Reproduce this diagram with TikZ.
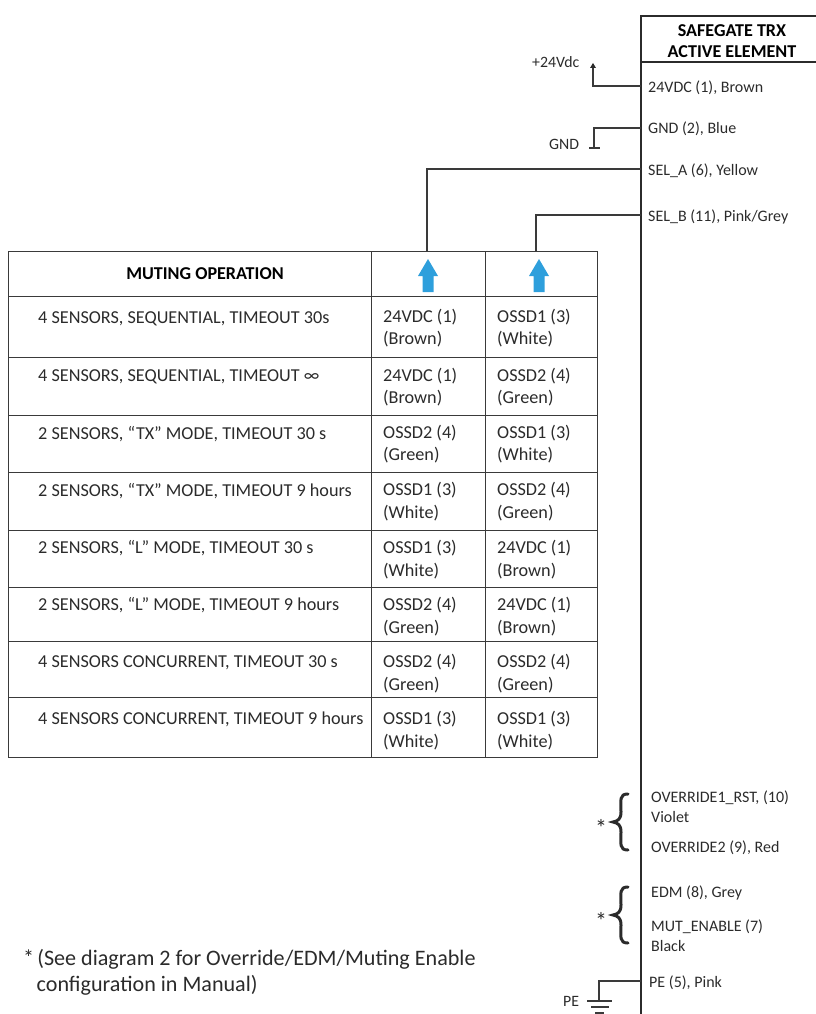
\documentclass[tikz,border=0pt]{standalone}
\usepackage{fontspec}
\setmainfont{Carlito}
\definecolor{ink}{HTML}{2B2B2B}
\definecolor{linec}{HTML}{3A3A3A}
\definecolor{arrowblue}{HTML}{2E9FDC}
\tikzset{
  txt/.style={inner sep=0pt,anchor=west,yshift=-1.5pt,text=ink,font=\fontsize{18.2}{22.2}\selectfont,align=left},
  pin/.style={txt,font=\fontsize{16}{20}\selectfont},
  sym/.style={txt,font=\fontsize{15.8}{18}\selectfont},
  star/.style={txt,font=\fontsize{24}{24}\selectfont},
  hdr/.style={inner sep=0pt,text=black,font=\fontsize{18.1}{21}\selectfont\bfseries,align=center},
  wire/.style={draw=linec,line width=1.1pt},
  grid/.style={draw=linec,line width=1pt},
  bx/.style={draw=ink,line width=2pt},
  brc/.style={draw=ink,line width=3pt,line cap=round},
  up/.style={fill=arrowblue,draw=none}
}
\newcommand{\braceat}[1]{% centre y
  \draw[brc] (628,#1-28) .. controls (619,#1-28) and (621,#1-22) .. (621,#1-10)
     .. controls (621,#1-3) and (618,#1-1) .. (613,#1)
     .. controls (618,#1+1) and (621,#1+3) .. (621,#1+10)
     .. controls (621,#1+22) and (619,#1+28) .. (628,#1+28);}
\newcommand{\uparr}[1]{%
  \fill[up] (#1,259) -- (#1+10,276) -- (#1+5.5,276) -- (#1+5.5,292) -- (#1-5.5,292) -- (#1-5.5,276) -- (#1-10,276) -- cycle;}
\begin{document}
\begin{tikzpicture}[x=1pt,y=-1pt]
\useasboundingbox (0,0) rectangle (816,1014);
\clip (0,0) rectangle (816,1014);
% active element box
\draw[bx] (641,1020) -- (641,16) -- (820,16);
\draw[bx] (641,62) -- (820,62);
\node[hdr] (title) at (732,41) {SAFEGATE TRX\\ACTIVE ELEMENT};
% pins
\node[pin] (p1) at (648,86) {24VDC (1), Brown};
\node[pin] (p2) at (648,127) {GND (2), Blue};
\node[pin] (p6) at (648,169) {SEL\_A (6), Yellow};
\node[pin] (p11) at (648,215) {SEL\_B (11), Pink/Grey};
\node[pin] (p10) at (651,805) {OVERRIDE1\_RST, (10)\\Violet};
\node[pin] (p9) at (651,846) {OVERRIDE2 (9), Red};
\node[pin] (p8) at (651,891) {EDM (8), Grey};
\node[pin] (p7) at (651,934) {MUT\_ENABLE (7)\\Black};
\node[pin] (p5) at (649,981) {PE (5), Pink};
\coordinate (j1) at (641,86);
\coordinate (j2) at (641,128);
\coordinate (j6) at (641,169);
\coordinate (j11) at (641,215);
\coordinate (j5) at (641,981);
% supply symbols
\node[sym] (v24) at (532,61) {+24Vdc};
\node[sym] (gnd) at (549,143) {GND};
\node[sym] (pe) at (563,1000) {PE};
\coordinate (v24tip) at (593,64);
\draw[wire] (j1) -| (v24tip);
\fill[ink] (593,63) -- (596,68) -- (590,68) -- cycle;
\coordinate (gndtop) at (594,148);
\draw[wire] (j2) -| (gndtop);
\draw[wire] (589,148) -- (600,148);
\coordinate (petop) at (599,1000);
\draw[wire] (j5) -| (petop);
\draw[wire] (587,1001) -- (612,1001);
\draw[wire] (591,1007) -- (609,1007);
\draw[wire] (595,1013) -- (604,1013);
% table
\draw[grid] (8,251) rectangle (597,757);
\foreach \y in {296,357,415,472,530,587,641,697} \draw[grid] (8,\y) -- (597,\y);
\draw[grid] (371,251) -- (371,757);
\draw[grid] (485,251) -- (485,757);
\coordinate (ca) at (427,251);
\coordinate (cb) at (536,251);
\draw[wire] (j6) -| (ca);
\draw[wire] (j11) -| (cb);
\uparr{428}
\uparr{539}
\node[hdr] (mh) at (205,274) {MUTING OPERATION};
% rows
\node[txt] (r1) at (38,317) {4 SENSORS, SEQUENTIAL, TIMEOUT 30s};
\node[txt] (r2) at (38,375) {4 SENSORS, SEQUENTIAL, TIMEOUT ∞};
\node[txt] (r3) at (38,433) {2 SENSORS, “TX” MODE, TIMEOUT 30 s};
\node[txt] (r4) at (38,490) {2 SENSORS, “TX” MODE, TIMEOUT 9 hours};
\node[txt] (r5) at (38,547) {2 SENSORS, “L” MODE, TIMEOUT 30 s};
\node[txt] (r6) at (38,604) {2 SENSORS, “L” MODE, TIMEOUT 9 hours};
\node[txt] (r7) at (38,661) {4 SENSORS CONCURRENT, TIMEOUT 30 s};
\node[txt] (r8) at (38,718) {4 SENSORS CONCURRENT, TIMEOUT 9 hours};
\node[txt] (a1) at (383,327) {24VDC (1)\\(Brown)};
\node[txt] (b1) at (497,327) {OSSD1 (3)\\(White)};
\node[txt] (a2) at (383,386) {24VDC (1)\\(Brown)};
\node[txt] (b2) at (497,386) {OSSD2 (4)\\(Green)};
\node[txt] (a3) at (383,443) {OSSD2 (4)\\(Green)};
\node[txt] (b3) at (497,443) {OSSD1 (3)\\(White)};
\node[txt] (a4) at (383,500) {OSSD1 (3)\\(White)};
\node[txt] (b4) at (497,500) {OSSD2 (4)\\(Green)};
\node[txt] (a5) at (383,558) {OSSD1 (3)\\(White)};
\node[txt] (b5) at (497,558) {24VDC (1)\\(Brown)};
\node[txt] (a6) at (383,615) {OSSD2 (4)\\(Green)};
\node[txt] (b6) at (497,615) {24VDC (1)\\(Brown)};
\node[txt] (a7) at (383,672) {OSSD2 (4)\\(Green)};
\node[txt] (b7) at (497,672) {OSSD2 (4)\\(Green)};
\node[txt] (a8) at (383,729) {OSSD1 (3)\\(White)};
\node[txt] (b8) at (497,729) {OSSD1 (3)\\(White)};
% braces
\braceat{822}
\braceat{915}
\node[star] (s1) at (595,826) {*};
\node[star] (s2) at (595,919) {*};
% footnote
\node[txt,font=\fontsize{22.1}{25.5}\selectfont] (fn) at (23,971) {*\hspace{3.2pt}(See diagram 2 for Override/EDM/Muting Enable\\\hspace{13.5pt}configuration in Manual)};
\end{tikzpicture}
\end{document}
